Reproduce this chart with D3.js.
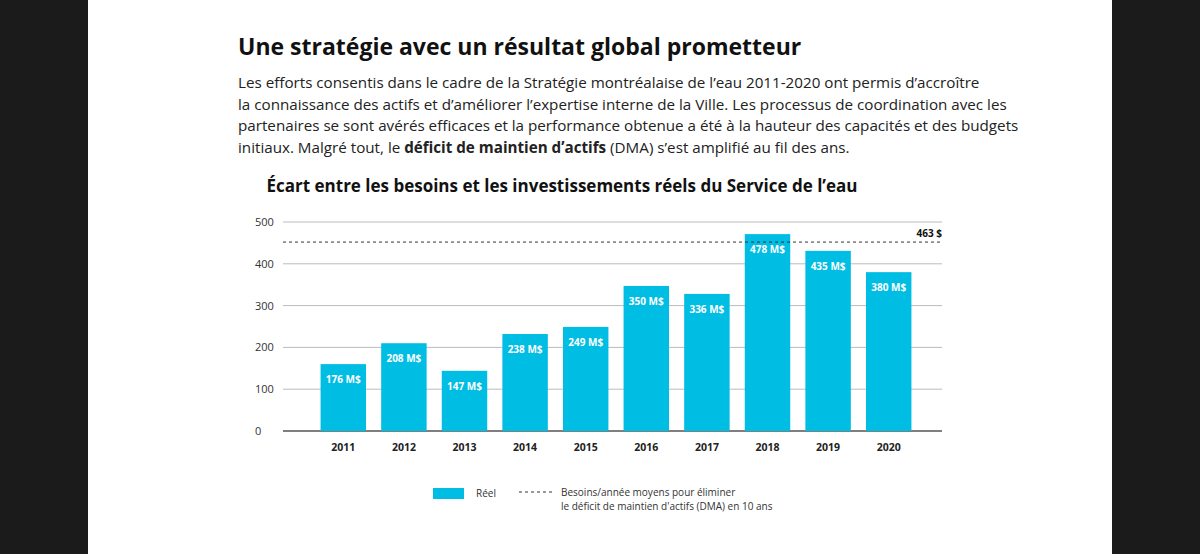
<!DOCTYPE html>
<html lang="fr">
<head>
<meta charset="utf-8">
<script src="https://d3js.org/d3.v7.min.js"></script>
<style>
  body { margin: 0; background: #1b1b1b; }
  svg { display: block; font-family: "Open Sans", sans-serif; }
</style>
</head>
<body>
<script>
  // Données
  let years = ["2011","2012","2013","2014","2015","2016","2017","2018","2019","2020"];
  let barHeights = [160, 210, 144, 232, 249, 347, 328, 471, 431, 380];
  let barLabels = ["176 M$","208 M$","147 M$","238 M$","249 M$","350 M$","336 M$","478 M$","435 M$","380 M$"];
  let yTicks = [0, 100, 200, 300, 400, 500];
  let needLevel = 452;
  let needLabel = "463 $";

  let W = 1200, H = 554;
  let svg = d3.select("body").append("svg").attr("width", W).attr("height", H);

  // panneau blanc
  svg.append("rect").attr("x", 88).attr("y", 0).attr("width", 1024).attr("height", H).attr("fill", "#fff");

  svg.append("text").attr("x", 238).attr("y", 55).attr("font-size", 23).attr("font-weight", 700)
     .attr("fill", "#111").text("Une stratégie avec un résultat global prometteur");

  let para = [
    [["Les efforts consentis dans le cadre de la Stratégie montréalaise de l’eau 2011-2020 ont permis d’accroître", 400]],
    [["la connaissance des actifs et d’améliorer l’expertise interne de la Ville. Les processus de coordination avec les", 400]],
    [["partenaires se sont avérés efficaces et la performance obtenue a été à la hauteur des capacités et des budgets", 400]],
    [["initiaux. Malgré tout, le ", 400], ["déficit de maintien d’actifs", 700], [" (DMA) s’est amplifié au fil des ans.", 400]]
  ];
  para.forEach(function(line, i) {
    let t = svg.append("text").attr("x", 238).attr("y", 88 + i * 21.5).attr("font-size", 15.2).attr("fill", "#222");
    line.forEach(function(s) { t.append("tspan").attr("font-weight", s[1]).text(s[0]); });
  });

  svg.append("text").attr("x", 562).attr("y", 192).attr("text-anchor", "middle").attr("font-size", 17)
     .attr("font-weight", 700).attr("fill", "#111").text("Écart entre les besoins et les investissements réels du Service de l’eau");

  let x = d3.scaleBand().domain(years).range([313, 919]).paddingInner(0.25).paddingOuter(0.125);
  let y = d3.scaleLinear().domain([0, 500]).range([431, 222]);
  let x0 = 283, x1 = 942;

  svg.selectAll(".grid").data(yTicks).enter().append("line")
     .attr("x1", x0).attr("x2", x1).attr("y1", d => y(d)).attr("y2", d => y(d))
     .attr("stroke", d => d === 0 ? "#555" : "#bbb").attr("stroke-width", d => d === 0 ? 1.5 : 1);

  svg.selectAll(".ytick").data(yTicks).enter().append("text")
     .attr("x", 255).attr("y", d => y(d) + 4).attr("font-size", 11).attr("fill", "#333").text(d => d);

  svg.selectAll(".bar").data(barHeights).enter().append("rect")
     .attr("x", (d, i) => x(years[i])).attr("width", x.bandwidth())
     .attr("y", d => y(d)).attr("height", d => y(0) - y(d)).attr("fill", "#00bde3");

  svg.selectAll(".blab").data(barLabels).enter().append("text")
     .attr("x", (d, i) => x(years[i]) + x.bandwidth() / 2).attr("y", (d, i) => y(barHeights[i]) + 19)
     .attr("text-anchor", "middle").attr("font-size", 10).attr("font-weight", 700).attr("fill", "#fff").text(d => d);

  svg.selectAll(".xlab").data(years).enter().append("text")
     .attr("x", d => x(d) + x.bandwidth() / 2).attr("y", 451).attr("text-anchor", "middle")
     .attr("font-size", 10.5).attr("font-weight", 700).attr("fill", "#222").text(d => d);

  svg.append("line").attr("x1", x0).attr("x2", x1).attr("y1", y(needLevel)).attr("y2", y(needLevel))
     .attr("stroke", "#333").attr("stroke-dasharray", "3,3");
  svg.append("text").attr("x", x1).attr("y", y(needLevel) - 5).attr("text-anchor", "end")
     .attr("font-size", 10).attr("font-weight", 700).attr("fill", "#111").text(needLabel);

  // légende
  svg.append("rect").attr("x", 433).attr("y", 488).attr("width", 31).attr("height", 11).attr("fill", "#00bde3");
  svg.append("text").attr("x", 476).attr("y", 497).attr("font-size", 10).attr("fill", "#333").text("Réel");
  svg.append("line").attr("x1", 519).attr("x2", 552).attr("y1", 492).attr("y2", 492)
     .attr("stroke", "#333").attr("stroke-dasharray", "3,3");
  svg.append("text").attr("x", 561).attr("y", 496).attr("font-size", 10).attr("fill", "#333")
     .text("Besoins/année moyens pour éliminer");
  svg.append("text").attr("x", 561).attr("y", 510).attr("font-size", 10).attr("fill", "#333")
     .text("le déficit de maintien d'actifs (DMA) en 10 ans");
</script>
</body>
</html>
